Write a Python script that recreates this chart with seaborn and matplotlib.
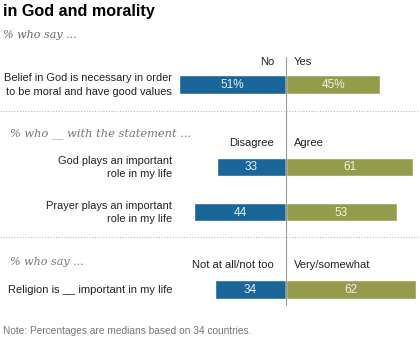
import matplotlib
matplotlib.use("Agg")
import matplotlib.pyplot as plt
import seaborn as sns
import pandas as pd

# ---- data ----
items = ["Belief in God is necessary in order\nto be moral and have good values",
         "God plays an important\nrole in my life",
         "Prayer plays an important\nrole in my life",
         "Religion is __ important in my life"]
neg_values = [51, 33, 44, 34]
pos_values = [45, 61, 53, 62]
value_labels_neg = ["51%", "33", "44", "34"]
value_labels_pos = ["45%", "61", "53", "62"]
neg_headers = ["No", "Disagree", "Not at all/not too"]
pos_headers = ["Yes", "Agree", "Very/somewhat"]

# ---- layout (pixel-like coords, y down) ----
W, H = 420, 337
zero_px = 286
scale = 2.09
ypos = [84.5, 167, 212, 289.5]

sns.set_theme(style="white")
plt.rcParams['font.family'] = ['Liberation Sans', 'DejaVu Sans']

fig = plt.figure(figsize=(W / 100, H / 100), dpi=100)
ax = fig.add_axes([0, 0, 1, 1])

BLUE = "#1a6699"
GREEN = "#949c4c"

df_neg = pd.DataFrame({"y": ypos, "v": [-v for v in neg_values]})
df_pos = pd.DataFrame({"y": ypos, "v": pos_values})
sns.barplot(data=df_neg, x="v", y="y", orient="h", native_scale=True,
            color=BLUE, saturation=1, width=0.42, ax=ax)
sns.barplot(data=df_pos, x="v", y="y", orient="h", native_scale=True,
            color=GREEN, saturation=1, width=0.42, ax=ax)

xmin = -zero_px / scale
xmax = (W - zero_px) / scale
ax.set_xlim(xmin, xmax)
ax.set_ylim(H, 0)
ax.axis("off")

def px(xp):
    return (xp - zero_px) / scale

# value labels
for y, v, lab in zip(ypos, neg_values, value_labels_neg):
    ax.text(-v / 2, y + 0.5, lab, ha="center", va="center", color="#e8eef2", fontsize=8.5)
for y, v, lab in zip(ypos, pos_values, value_labels_pos):
    ax.text(v / 2, y + 0.5, lab, ha="center", va="center", color="#f0f0e4", fontsize=8.5)

# center line
ax.plot([0, 0], [57, 305], color="#999999", lw=0.8)

# dotted separators
for yy in [111, 237]:
    ax.plot([xmin, xmax], [yy, yy], color="#bbbbbb", lw=0.8, ls=(0, (1, 1.5)))

# row labels
lab_x = px(172)
for i in range(3):
    ax.text(lab_x, ypos[i] + 0.5, items[i], ha="right", va="center", fontsize=7.9,
            color="#222222", linespacing=1.45)
ax.text(px(8), ypos[3] + 0.5, items[3], ha="left", va="center", fontsize=8, color="#222222")

# column headers
hdr_y = [62, 143, 265]
for y, n, p in zip(hdr_y, neg_headers, pos_headers):
    ax.text(px(274), y, n, ha="right", va="center", fontsize=8, color="#222222")
    ax.text(px(294), y, p, ha="left", va="center", fontsize=8, color="#222222")

# title and subtitles
ax.text(px(3), 11.5, "in God and morality", ha="left", va="center", fontsize=11.6,
        fontweight="bold", color="#000000", family=['Liberation Sans', 'DejaVu Sans'])
sub_font = ['DejaVu Serif']
ax.text(px(3), 35, "% who say ...", ha="left", va="center", fontsize=8.0,
        style="italic", color="#666666", family=sub_font)
ax.text(px(10), 134, "% who __ with the statement ...", ha="left", va="center", fontsize=8.2,
        style="italic", color="#777777", family=sub_font)
ax.text(px(10), 262, "% who say ...", ha="left", va="center", fontsize=8.0,
        style="italic", color="#777777", family=sub_font)

# note
ax.text(px(3), 331, "Note: Percentages are medians based on 34 countries.", ha="left",
        va="center", fontsize=7.3, color="#777777")

fig.savefig("out.png", dpi=100)
